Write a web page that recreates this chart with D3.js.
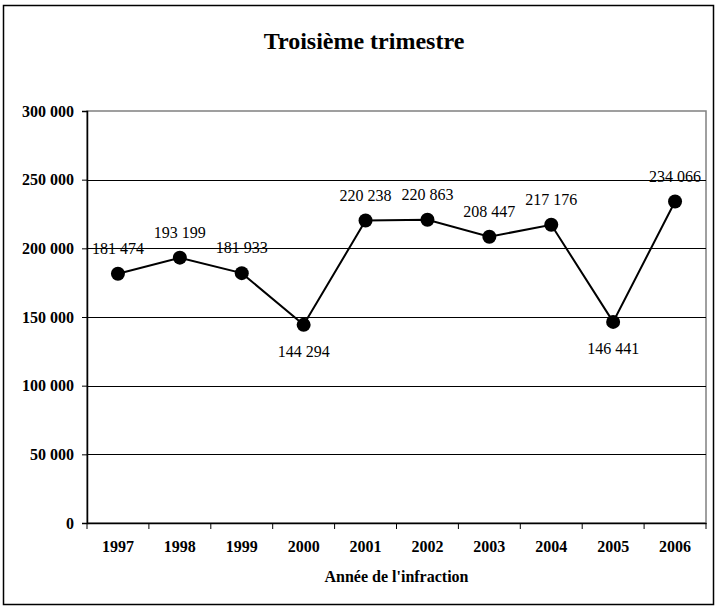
<!DOCTYPE html>
<html>
<head>
<meta charset="utf-8">
<script src="https://cdn.jsdelivr.net/npm/d3@7"></script>
<style>
  body { margin: 0; background: #fff; }
  text { font-family: "Liberation Serif", "Times New Roman", serif; }
</style>
</head>
<body>
<div id="chart"></div>
<script>
const years = ["1997", "1998", "1999", "2000", "2001", "2002", "2003", "2004", "2005", "2006"];
const values = [181474, 193199, 181933, 144294, 220238, 220863, 208447, 217176, 146441, 234066];
// labels below the point for these years
const below = ["2000", "2005"];
const yTicks = [0, 50000, 100000, 150000, 200000, 250000, 300000];

const W = 717, H = 608;
const margin = { top: 111, right: 11, bottom: 85, left: 87 };
const width = W - margin.left - margin.right;
const height = H - margin.top - margin.bottom;
const serif = '"Liberation Serif", "Times New Roman", serif';

const fmt = v => d3.format(",")(v).replace(/,/g, " ");

const svg = d3.select("#chart")
  .append("svg")
  .attr("width", W)
  .attr("height", H);

// outer frame
svg.append("rect")
  .attr("x", 3.5).attr("y", 5.5)
  .attr("width", 710).attr("height", 599)
  .attr("fill", "none")
  .attr("stroke", "#000")
  .attr("stroke-width", 1.5);

svg.append("text")
  .attr("x", 364)
  .attr("y", 49)
  .attr("text-anchor", "middle")
  .style("font-family", serif)
  .style("font-size", "24px")
  .style("font-weight", "bold")
  .text("Troisième trimestre");

const g = svg.append("g")
  .attr("transform", `translate(${margin.left},${margin.top})`);

const x = d3.scaleBand()
  .domain(years)
  .range([0, width])
  .padding(0);

const y = d3.scaleLinear()
  .domain([0, 300000])
  .range([height, 0]);

// plot area border (grey)
g.append("rect")
  .attr("x", 0).attr("y", 0)
  .attr("width", width).attr("height", height)
  .attr("fill", "none")
  .attr("stroke", "#808080")
  .attr("stroke-width", 1.5);

// gridlines
g.selectAll("line.grid")
  .data(yTicks.filter(d => d > 0 && d < 300000))
  .enter()
  .append("line")
  .attr("class", "grid")
  .attr("x1", 0).attr("x2", width)
  .attr("y1", d => Math.round(y(d)) + 0.5)
  .attr("y2", d => Math.round(y(d)) + 0.5)
  .style("stroke", "#000");

// y axis
const yAxis = g.append("g")
  .call(d3.axisLeft(y).tickValues(yTicks).tickFormat(fmt).tickSize(5).tickPadding(8));
yAxis.select(".domain").attr("stroke-width", 1.5);
yAxis.selectAll("text")
  .style("font-family", serif)
  .style("font-size", "16px")
  .style("font-weight", "bold")
  .attr("fill", "#000");

// x axis
const xAxis = g.append("g")
  .attr("transform", `translate(0,${height})`)
  .call(d3.axisBottom(x).tickSize(0).tickPadding(18));
xAxis.select(".domain").attr("stroke-width", 1.5);
xAxis.selectAll("text")
  .style("font-family", serif)
  .style("font-size", "16px")
  .style("font-weight", "bold")
  .attr("fill", "#000");

// ticks between categories
xAxis.selectAll("line.sep")
  .data(years.concat(["end"]))
  .enter()
  .append("line")
  .attr("class", "sep")
  .attr("x1", (d, i) => i < years.length ? x(d) : width)
  .attr("x2", (d, i) => i < years.length ? x(d) : width)
  .attr("y1", 0).attr("y2", 6)
  .attr("stroke", "#000");

svg.append("text")
  .attr("x", margin.left + width / 2)
  .attr("y", 582)
  .attr("text-anchor", "middle")
  .style("font-family", serif)
  .style("font-size", "16px")
  .style("font-weight", "bold")
  .text("Année de l'infraction");

const cx = d => x(d) + x.bandwidth() / 2;

const line = d3.line()
  .x((d, i) => cx(years[i]))
  .y(d => y(d));

g.append("path")
  .datum(values)
  .attr("d", line)
  .attr("fill", "none")
  .attr("stroke", "#000")
  .attr("stroke-width", 2);

g.selectAll("circle")
  .data(values)
  .enter()
  .append("circle")
  .attr("cx", (d, i) => cx(years[i]))
  .attr("cy", d => y(d))
  .attr("r", 7)
  .style("fill", "#000");

g.selectAll("text.lbl")
  .data(values)
  .enter()
  .append("text")
  .attr("class", "lbl")
  .attr("x", (d, i) => cx(years[i]))
  .attr("y", (d, i) => below.includes(years[i]) ? y(d) + 32 : y(d) - 20)
  .attr("text-anchor", "middle")
  .style("font-family", serif)
  .style("font-size", "16px")
  .text(d => fmt(d));
</script>
</body>
</html>
